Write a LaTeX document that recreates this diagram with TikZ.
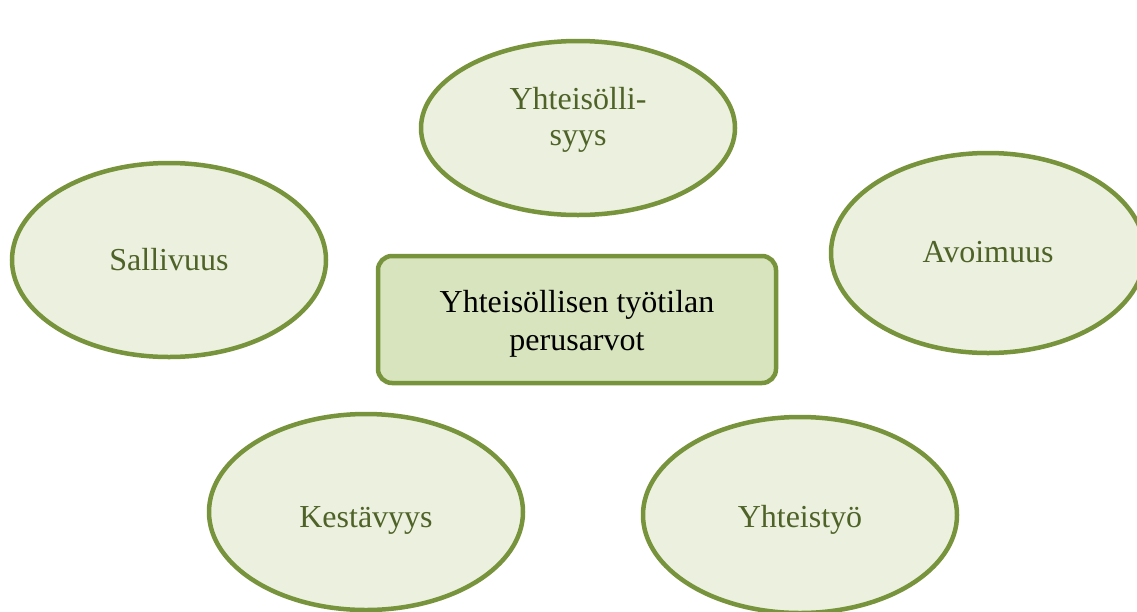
\documentclass[tikz,border=0pt]{standalone}
\usepackage{fontspec}
\setmainfont{Liberation Serif}
\usetikzlibrary{shapes.geometric}
\definecolor{edgegreen}{HTML}{77933C}
\definecolor{ellfill}{HTML}{EBF1DE}
\definecolor{boxfill}{HTML}{D7E4BD}
\definecolor{txtgreen}{HTML}{4F6228}
\newcommand{\lowered}[2]{\raisebox{-#1pt}{#2}}
\newcommand{\twolines}[2]{\begin{tabular}[b]{@{}c@{}}#1\\#2\end{tabular}}
\tikzset{
  valueell/.style={ellipse, draw=edgegreen, fill=ellfill, line width=4.5pt,
    inner sep=0pt, text=txtgreen, font=\fontsize{32}{36}\selectfont,
    text height=0pt, text depth=0pt},
  centerbox/.style={rectangle, rounded corners=14pt, draw=edgegreen, fill=boxfill,
    line width=4.5pt, inner sep=0pt, text=black, font=\fontsize{32}{38}\selectfont,
    text height=0pt, text depth=0pt}
}
\begin{document}
\begin{tikzpicture}[x=1pt,y=-1pt]
\useasboundingbox (0,0) rectangle (1137,611);
\node[valueell, minimum width=314pt, minimum height=174pt] (top) at (578,128) {\lowered{17}{\twolines{Yhteisölli-}{syys}}};
\node[valueell, minimum width=314pt, minimum height=194pt] (left) at (169,260) {\lowered{10}{Sallivuus}};
\node[valueell, minimum width=314pt, minimum height=200pt] (right) at (988,253) {\lowered{9}{Avoimuus}};
\node[valueell, minimum width=314pt, minimum height=196pt] (bl) at (366,512) {\lowered{15}{Kestävyys}};
\node[valueell, minimum width=314pt, minimum height=196pt] (br) at (800,515) {\lowered{12}{Yhteistyö}};
\node[centerbox, minimum width=398pt, minimum height=127pt] (center) at (577,319.5) {\lowered{30.5}{\twolines{Yhteisöllisen työtilan}{perusarvot}}};
\end{tikzpicture}
\end{document}
